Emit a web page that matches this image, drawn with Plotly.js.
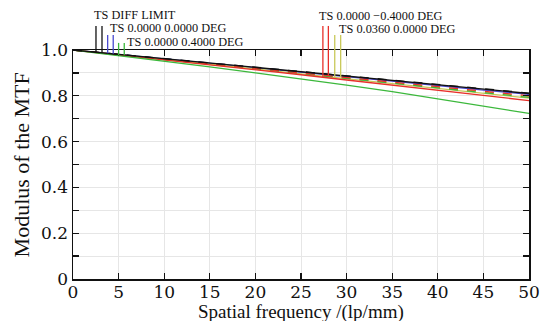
<!DOCTYPE html>
<html><head><meta charset="utf-8">
<script src="https://cdn.plot.ly/plotly-3.0.1.min.js"></script>
<style>html,body{margin:0;padding:0;background:#fff;}#chart{width:553px;height:321px;}</style>
</head><body><div id="chart"></div>
<script>
const freq = [0,5,10,15,20,25,30,35,40,45,50];
const diffT = [1,.981,.962,.943,.924,.905,.886,.867,.848,.829,.810];
const diffS = [1,.981,.962,.943,.925,.906,.887,.868,.849,.831,.812];
const axT = [1,.981,.961,.942,.923,.903,.884,.864,.845,.825,.806];
const axS = [1,.981,.961,.942,.923,.904,.885,.865,.846,.827,.808];
const p04T = [1,.976,.951,.926,.900,.874,.847,.818,.787,.756,.723];
const p04S = [1,.980,.959,.939,.918,.897,.876,.855,.835,.814,.793];
const m04T = [1,.979,.958,.936,.914,.892,.869,.847,.825,.802,.779];
const m04S = [1,.980,.960,.940,.920,.900,.880,.860,.840,.820,.800];
const xT = [1,.980,.959,.938,.917,.896,.875,.853,.832,.811,.790];
const xS = [1,.980,.960,.939,.919,.899,.878,.858,.838,.817,.797];
const labels = ["TS DIFF LIMIT","TS 0.0000 0.0000 DEG","TS 0.0000 0.4000 DEG","TS 0.0000 \u22120.4000 DEG","TS 0.0360 0.0000 DEG"];
const xTickVals = [0,5,10,15,20,25,30,35,40,45,50];
const yTickVals = [0,0.2,0.4,0.6,0.8,1.0];
const yTickText = ["0","0.2","0.4","0.6","0.8","1.0"];
const xTitle = "Spatial frequency /(lp/mm)";
const yTitle = "Modulus of the MTF";

const cBlack="#111111", cBlue="#4a4ad0", cGreen="#3cb83c", cRed="#e8302a", cYel="#c8c858";
const series = [
  {y:axT,c:cBlue,d:"solid"},{y:axS,c:cBlue,d:"dash"},
  {y:xT,c:cYel,d:"solid"},{y:xS,c:cYel,d:"dash"},
  {y:p04S,c:cGreen,d:"dash"},{y:m04T,c:cRed,d:"solid"},{y:m04S,c:cRed,d:"dash"},
  {y:p04T,c:cGreen,d:"solid"},
  {y:diffT,c:cBlack,d:"solid"},{y:diffS,c:cBlack,d:"dash"}
];
const traces = series.map(s=>({x:freq,y:s.y,type:"scatter",mode:"lines",
  line:{color:s.c,width:1.3,dash:s.d},hoverinfo:"skip",showlegend:false}));

function interp(arr,xv){
  for(let i=0;i<freq.length-1;i++){
    if(xv>=freq[i]&&xv<=freq[i+1]){const t=(xv-freq[i])/(freq[i+1]-freq[i]);return arr[i]+t*(arr[i+1]-arr[i]);}
  }
  return arr[arr.length-1];
}
const marks = [
  [2.52,1.105,cBlack,diffT],[3.18,1.105,cBlack,diffS],
  [3.80,1.066,cBlue,axT],[4.41,1.066,cBlue,axS],
  [5.00,1.031,cGreen,p04T],[5.62,1.031,cGreen,p04S],
  [27.4,1.105,cRed,m04T],[28.0,1.105,cRed,m04S],
  [28.7,1.066,cYel,xT],[29.35,1.066,cYel,xS]
];
const shapes = marks.map(m=>({type:"line",xref:"x",yref:"paper",x0:m[0],x1:m[0],
  y0:interp(m[3],m[0]),y1:m[1],line:{color:m[2],width:1.3}}));
const ann = [
  [2.16,1.153,labels[0]],[3.94,1.096,labels[1]],[5.77,1.037,labels[2]],
  [26.9,1.150,labels[3]],[29.1,1.092,labels[4]]
].map(a=>({x:a[0],y:a[1],xref:"x",yref:"paper",text:a[2],showarrow:false,borderpad:0,
  xanchor:"left",yanchor:"middle",font:{family:"Liberation Serif",size:12.3,color:"#111"}}));
ann.push({x:0.5,y:-0.143,xref:"paper",yref:"paper",text:xTitle,showarrow:false,
  xanchor:"center",yanchor:"middle",font:{family:"Liberation Serif",size:19,color:"#111"}});
ann.push({x:-0.112,y:0.5,xref:"paper",yref:"paper",text:yTitle,showarrow:false,textangle:-90,
  xanchor:"center",yanchor:"middle",font:{family:"Liberation Serif",size:22,color:"#111"}});

const tickFont = {family:"DejaVu Serif",size:17,color:"#111"};
const layout = {
  width:553,height:321,margin:{l:73,r:24,t:50,b:42},
  paper_bgcolor:"#fff",plot_bgcolor:"#fff",
  xaxis:{range:[0,50],tickvals:xTickVals,ticks:"inside",ticklen:6,tickwidth:1.3,tickcolor:"#111",
    showline:true,linecolor:"#111",linewidth:1.5,mirror:"allticks",ticklabelstandoff:-3,
    showgrid:true,gridcolor:"#e6e6e6",gridwidth:1,zeroline:false,tickfont:tickFont},
  yaxis:{range:[0,1],tickvals:yTickVals,ticktext:yTickText,ticks:"inside",ticklen:6,tickwidth:1.3,tickcolor:"#111",
    showline:true,linecolor:"#111",linewidth:1.5,mirror:"allticks",
    showgrid:true,gridcolor:"#e6e6e6",gridwidth:1,zeroline:false,
    minor:{dtick:0.1,ticks:"inside",ticklen:6,tickcolor:"#111",showgrid:true,gridcolor:"#e6e6e6"},
    tickfont:tickFont},
  shapes:shapes,annotations:ann,showlegend:false
};
Plotly.newPlot("chart",traces,layout,{displayModeBar:false,staticPlot:true});
</script></body></html>
